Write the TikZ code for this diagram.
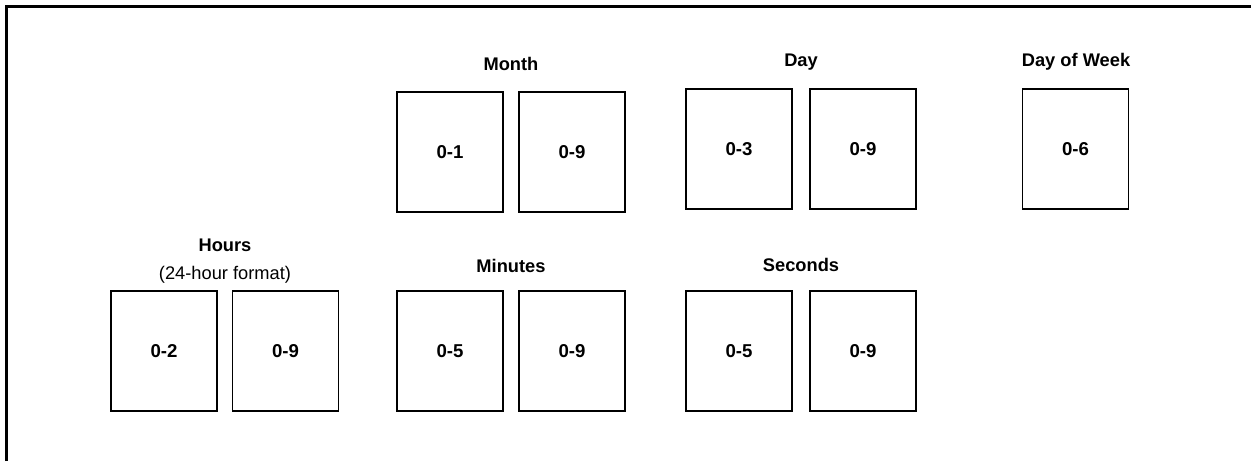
\documentclass[tikz,border=0pt]{standalone}
\usepackage{fontspec}
\setmainfont{Liberation Sans}
\begin{document}
\begin{tikzpicture}[x=0.02cm, y=-0.02cm, font=\fontsize{10.4}{12}\selectfont, line join=miter,
	digitbox/.style={draw, line width=1.1pt, minimum width=2.12cm, minimum height=2.4cm, inner sep=0pt, font=\fontsize{10.6}{12}\selectfont\bfseries},
	fieldname/.style={anchor=base, font=\fontsize{10.4}{12}\selectfont\bfseries}]
	\useasboundingbox (0,0) rectangle (1251,461);
	% khung
	\draw[line width=1.2pt] (6.5,461) -- (6.5,6.5) -- (1251,6.5);
	% ô chữ số
	\foreach \n/\x/\y/\t in {mon1/450/152/0-1, mon2/572/152/0-9, day1/739/149/0-3, day2/863/149/0-9, dow/1075.5/149/0-6,
		hr1/164/351/0-2, hr2/285.5/351/0-9, min1/450/351/0-5, min2/572/351/0-9, sec1/739/351/0-5, sec2/863/351/0-9}
	\node[digitbox] (\n) at (\x,\y) {\t};
	% tên trường
	\node[fieldname] (month) at (511,70) {Month};
	\node[fieldname] (day) at (801,66.7) {Day};
	\node[fieldname] (dayweek) at (1076,66.7) {Day of Week};
	\node[fieldname] (hours) at (225,251.7) {Hours};
	\node[anchor=base] (hformat) at (225,279) {(24-hour format)};
	\node[fieldname] (minutes) at (511,272.7) {Minutes};
	\node[fieldname] (seconds) at (801,271.7) {Seconds};
\end{tikzpicture}
\end{document}
